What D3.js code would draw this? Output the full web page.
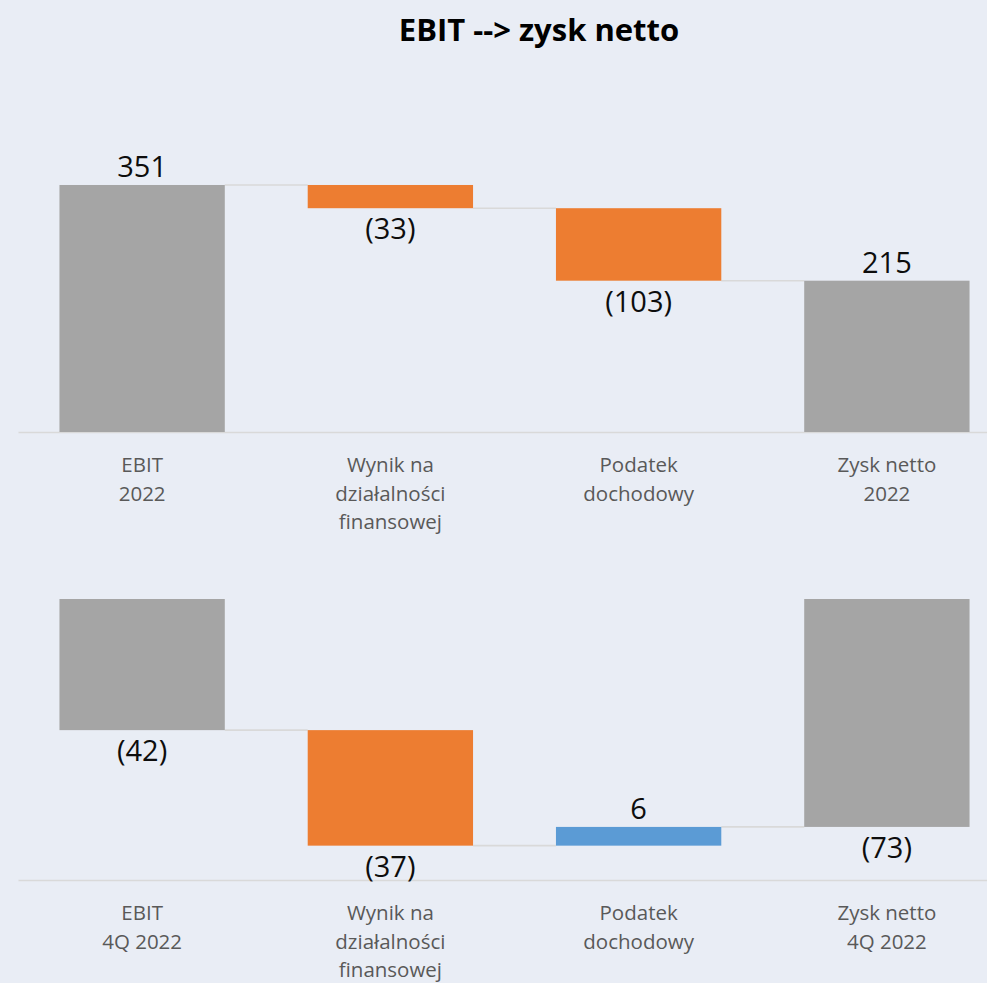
<!DOCTYPE html>
<html>
<head>
<meta charset="utf-8">
<script src="https://cdn.jsdelivr.net/npm/d3@7/dist/d3.min.js"></script>
<style>
  html, body { margin: 0; padding: 0; background: #e9edf5; }
  svg { display: block; font-family: "Open Sans", "Noto Sans", sans-serif; }
</style>
</head>
<body>
<svg id="chart" width="987" height="983"></svg>
<script>
// Full-year waterfall: EBIT 2022 down to net profit 2022
const yearCategories = ["EBIT\n2022", "Wynik na\ndziałalności\nfinansowej", "Podatek\ndochodowy", "Zysk netto\n2022"];
const yearValues = [351, -33, -103, 215];

// Fourth-quarter waterfall
const quarterCategories = ["EBIT\n4Q 2022", "Wynik na\ndziałalności\nfinansowej", "Podatek\ndochodowy", "Zysk netto\n4Q 2022"];
const quarterValues = [-42, -37, 6, -73];

// Which steps are totals (drawn from zero) rather than deltas
const isTotal = [true, false, false, true];

const yearDomain = [0, 400];
const quarterDomain = [-90, 0];

const colors = { total: "#a5a5a5", down: "#ed7d31", up: "#5b9bd5" };

const svg = d3.select("#chart");

svg.append("text")
  .attr("x", 539).attr("y", 41)
  .attr("text-anchor", "middle")
  .attr("font-weight", "bold")
  .attr("font-size", 31)
  .attr("fill", "#000")
  .text("EBIT --> zysk netto");

const fmt = v => v < 0 ? "(" + Math.abs(v) + ")" : String(v);

function waterfall(categories, values, domain, top, bottom) {
  const g = svg.append("g");

  const x = d3.scaleBand()
    .domain(categories)
    .range([18, 1011])
    .paddingInner(0.334)
    .paddingOuter(0.167);

  const y = d3.scaleLinear().domain(domain).range([bottom, top]);

  // running totals: each bar spans [start, end]
  let run = 0;
  const steps = values.map((v, i) => {
    let start, end;
    if (isTotal[i]) { start = 0; end = v; run = v; }
    else { start = run; end = run + v; run = end; }
    return { cat: categories[i], v, start, end, total: isTotal[i] };
  });

  // category axis along the bottom of the plot
  const axis = g.append("g")
    .attr("transform", `translate(0,${bottom})`)
    .call(d3.axisBottom(x).tickSize(0).tickPadding(0));
  axis.select(".domain").attr("stroke", "#d9d9d9").attr("stroke-width", 1.6);
  axis.selectAll(".tick text").each(function(d) {
    const t = d3.select(this);
    t.text(null)
      .attr("y", 0).attr("dy", null)
      .attr("fill", "#595959")
      .attr("font-size", 20.5)
      .attr("font-family", "\"Open Sans\", sans-serif");
    d.split("\n").forEach((line, k) => {
      t.append("tspan").attr("x", 0).attr("y", 40 + k * 28.7).text(line);
    });
  });

  // connector lines between consecutive bars
  g.selectAll("line.conn")
    .data(steps.slice(0, -1))
    .join("line")
    .attr("class", "conn")
    .attr("x1", d => x(d.cat) + x.bandwidth())
    .attr("x2", (d, i) => x(steps[i + 1].cat))
    .attr("y1", d => y(d.end))
    .attr("y2", d => y(d.end))
    .attr("stroke", "#d9d9d9")
    .attr("stroke-width", 1.6);

  g.selectAll("rect.bar")
    .data(steps)
    .join("rect")
    .attr("class", "bar")
    .attr("x", d => x(d.cat))
    .attr("width", x.bandwidth())
    .attr("y", d => y(Math.max(d.start, d.end)))
    .attr("height", d => Math.abs(y(d.start) - y(d.end)))
    .attr("fill", d => d.total ? colors.total : (d.v < 0 ? colors.down : colors.up));

  g.selectAll("text.val")
    .data(steps)
    .join("text")
    .attr("class", "val")
    .attr("x", d => x(d.cat) + x.bandwidth() / 2)
    .attr("y", d => d.v < 0 ? y(Math.min(d.start, d.end)) + 31 : y(Math.max(d.start, d.end)) - 8)
    .attr("text-anchor", "middle")
    .attr("font-size", 29)
    .attr("fill", "#0d0d0d")
    .text(d => fmt(d.v));
}

waterfall(yearCategories, yearValues, yearDomain, 150.5, 432);
waterfall(quarterCategories, quarterValues, quarterDomain, 599, 880);
</script>
</body>
</html>
